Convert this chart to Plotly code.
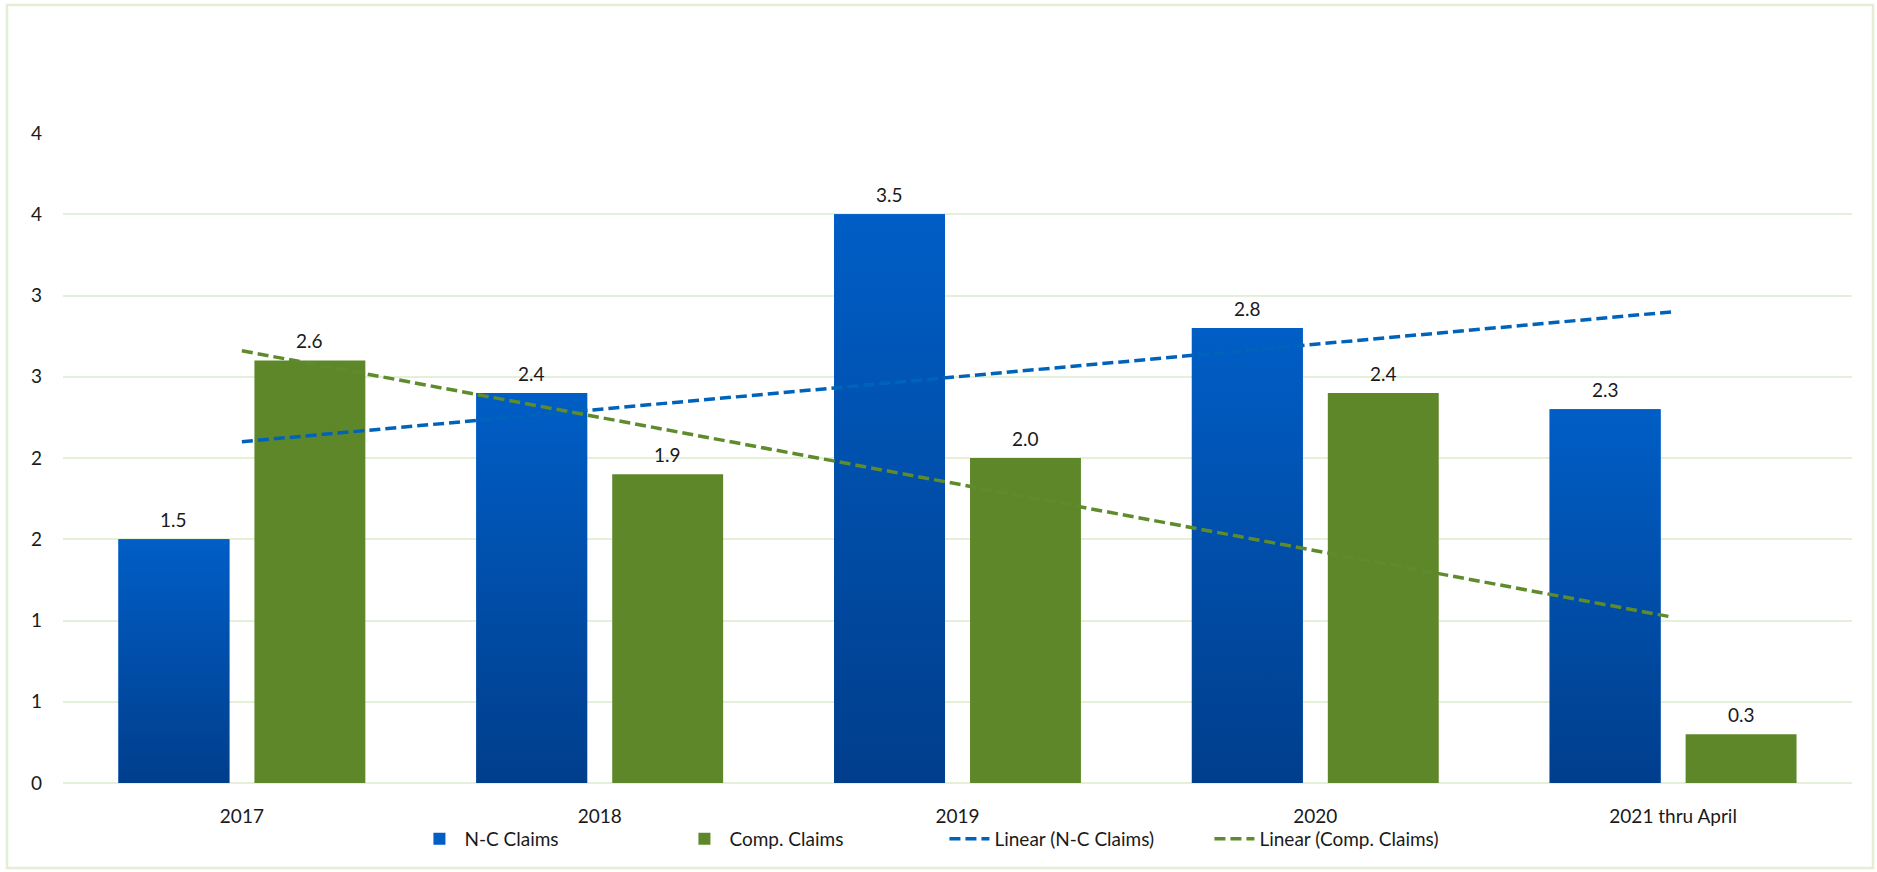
import plotly.graph_objects as go
import numpy as np

# ---- data ----
CATEGORIES = ["2017", "2018", "2019", "2020", "2021 thru April"]
NC_CLAIMS = [1.5, 2.4, 3.5, 2.8, 2.3]
COMP_CLAIMS = [2.6, 1.9, 2.0, 2.4, 0.3]
Y_TICKS = [0, 0.5, 1.0, 1.5, 2.0, 2.5, 3.0, 3.5, 4.0]
Y_TICK_LABELS = ["0", "1", "1", "2", "2", "3", "3", "4", "4"]

# ---- style ----
FONT = "Lato, Calibri, Carlito, sans-serif"
TEXT_COLOR = "#1a1a1a"
BLUE_TOP = "#005EC6"
BLUE_BOTTOM = "#003E8C"
GREEN = "#5E872A"
TREND_BLUE = "#0063BA"
TREND_GREEN = "#5E8B2C"
GRID = "#E5F0D9"
BORDER = "#E3EED5"

BAR_W = 0.31
BLUE_OFF = -0.345
GREEN_OFF = 0.035

W, H = 1877, 872
M_L, M_R, M_T, M_B = 63, 25, 133, 89

xpos = np.arange(len(CATEGORIES), dtype=float)

fig = go.Figure()

# N-C bars (base colour, also used for the legend key)
fig.add_trace(go.Bar(
    x=xpos, y=NC_CLAIMS, name="N-C Claims",
    width=BAR_W, offset=BLUE_OFF,
    marker=dict(color=BLUE_TOP, line=dict(width=0)),
    hoverinfo="x+y",
))
# Comp. bars
fig.add_trace(go.Bar(
    x=xpos, y=COMP_CLAIMS, name="Comp. Claims",
    width=BAR_W, offset=GREEN_OFF,
    marker=dict(color=GREEN, line=dict(width=0)),
    hoverinfo="x+y",
))

# vertical gradient overlay for each N-C bar
for xi, v in zip(xpos, NC_CLAIMS):
    x0 = xi + BLUE_OFF
    x1 = x0 + BAR_W
    fig.add_trace(go.Scatter(
        x=[x0, x1, x1, x0, x0], y=[0, 0, v, v, 0],
        mode="none", fill="toself",
        fillgradient=dict(type="vertical",
                          colorscale=[[0, BLUE_BOTTOM], [1, BLUE_TOP]]),
        showlegend=False, hoverinfo="skip",
    ))

# linear trend lines across the category centres
for vals, name, col in [(NC_CLAIMS, "Linear (N-C Claims)", TREND_BLUE),
                        (COMP_CLAIMS, "Linear (Comp. Claims)", TREND_GREEN)]:
    slope, icpt = np.polyfit(xpos, np.array(vals, dtype=float), 1)
    xs = np.array([xpos[0], xpos[-1]])
    fig.add_trace(go.Scatter(
        x=xs, y=slope * xs + icpt, name=name, mode="lines",
        line=dict(color=col, width=3.5, dash="11px,5px"),
        hoverinfo="skip",
    ))

# value labels above the bars
for vals, off in [(NC_CLAIMS, BLUE_OFF), (COMP_CLAIMS, GREEN_OFF)]:
    for xi, v in zip(xpos, vals):
        fig.add_annotation(
            x=xi + off + BAR_W / 2, y=v, text=f"{v:.1f}",
            showarrow=False, yanchor="middle", yshift=20,
            font=dict(family=FONT, size=19, color=TEXT_COLOR),
        )

# light outer frame around the chart
pw = W - M_L - M_R
ph = H - M_T - M_B
fig.add_shape(
    type="rect", xref="paper", yref="paper",
    x0=(7 - M_L) / pw, x1=(1873 - M_L) / pw,
    y0=(H - M_B - 868) / ph, y1=(H - M_B - 5) / ph,
    line=dict(color=BORDER, width=2.5), fillcolor="rgba(0,0,0,0)",
    layer="below",
)

fig.update_layout(
    width=W, height=H,
    margin=dict(l=M_L, r=M_R, t=M_T, b=M_B),
    paper_bgcolor="white", plot_bgcolor="white",
    font=dict(family=FONT, size=19, color=TEXT_COLOR),
    barmode="overlay",
    showlegend=True,
    legend=dict(
        orientation="h", x=0.4927, xanchor="center",
        y=(H - M_B - 839) / ph, yanchor="middle",
        font=dict(family=FONT, size=19, color=TEXT_COLOR),
        itemwidth=40, entrywidth=210, entrywidthmode="pixels",
        bgcolor="rgba(0,0,0,0)",
        traceorder="normal",
    ),
    xaxis=dict(
        range=[-0.5, len(CATEGORIES) - 0.5],
        tickmode="array", tickvals=xpos, ticktext=CATEGORIES,
        showgrid=False, zeroline=False, showline=False,
        ticks="", ticklabelstandoff=20,
        tickfont=dict(family=FONT, size=19, color=TEXT_COLOR),
        fixedrange=True,
    ),
    yaxis=dict(
        range=[0, 4],
        tickmode="array", tickvals=Y_TICKS, ticktext=Y_TICK_LABELS,
        showgrid=True, gridcolor=GRID, gridwidth=2,
        zeroline=True, zerolinecolor=GRID, zerolinewidth=2,
        showline=False, ticks="", ticklabelstandoff=20,
        tickfont=dict(family=FONT, size=19, color=TEXT_COLOR),
        fixedrange=True,
    ),
)

fig.write_html("out.html")
